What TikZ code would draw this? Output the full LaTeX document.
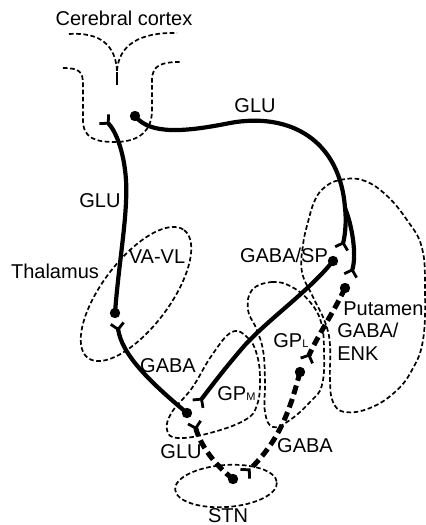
\documentclass[tikz,border=0pt]{standalone}
\usepackage{fontspec}
\setmainfont{Liberation Sans}
\usetikzlibrary{arrows.meta}

\begin{document}
\begin{tikzpicture}[x=0.5pt,y=-0.5pt,
    axon/.style={line width=2.1pt},
    axondash/.style={line width=2.5pt,dash pattern=on 4.5pt off 2.5pt},
    region/.style={line width=0.85pt,dash pattern=on 2.3pt off 1.3pt},
    terminal/.style={-{Straight Barb[reversed,length=3pt,width=6.5pt,line width=1.4pt]}},
    lbl/.style={font=\fontsize{10}{12}\selectfont,inner sep=0pt,anchor=base},
    lbll/.style={lbl,anchor=base west}]

    \useasboundingbox (0,0) rectangle (426,525);

    % Outline of the cerebral cortex
    \draw[region] (69,34) .. controls (100,32) and (116,45) .. (117,72)
        .. controls (118,45) and (140,32) .. (177,33);
    \draw[line width=0.85pt] (117,72) -- (117,85);
    \draw[region] (63,68) .. controls (80,68) and (83,72) .. (83,85) -- (83,120)
        .. controls (83,138) and (95,142) .. (115,142)
        .. controls (140,142) and (152,130) .. (152,110) -- (152,80)
        .. controls (152,65) and (162,62) .. (180,62);

    % Outlines of thalamus, STN, GP and putamen
    \draw[region,shift={(136,294)},rotate=53] (0,0) ellipse [x radius=80,y radius=34];
    \draw[region,shift={(226,486)},rotate=4] (0,0) ellipse [x radius=51,y radius=21];
    \draw[region] plot[smooth cycle,tension=0.7] coordinates {(232,332) (248,338) (257,355)
        (260,380) (257,405) (245,420) (210,433) (178,438) (167,430) (172,412) (192,388) (212,355)};
    \draw[region] plot[smooth cycle,tension=0.7] coordinates {(252,290) (272,282) (292,287)
        (310,302) (321,322) (324,350) (322,385) (310,402) (290,420) (273,427) (265,412)
        (265,380) (263,350) (256,328) (248,310)};
    \draw[region] plot[smooth cycle,tension=0.7] coordinates {(340,180) (362,180) (385,194)
        (407,220) (422,248) (425,290) (423,340) (412,370) (395,392) (370,408) (345,412)
        (333,402) (330,380) (330,345) (325,322) (313,297) (302,272) (303,245) (308,222)
        (315,200) (325,187)};

    % Cell bodies and synapses
    \coordinate (ctxsoma) at (135,116);
    \coordinate (ctxsyn) at (103,118);
    \coordinate (thalsoma) at (115,313);
    \coordinate (thalsyn) at (117,322);
    \coordinate (branch) at (345,208);
    \coordinate (spsyn) at (341,250);
    \coordinate (spsoma) at (333,261);
    \coordinate (enksyn) at (350,277);
    \coordinate (enksoma) at (345,288);
    \coordinate (gplsyn) at (306,362);
    \coordinate (gplsoma) at (300,372);
    \coordinate (gpmsoma) at (187,413);
    \coordinate (gpmsynsp) at (197,405);
    \coordinate (gpmsynstn) at (194,421);
    \coordinate (stnsyn) at (244,475);
    \coordinate (stnsoma) at (233,479);

    % Solid pathways
    \draw[axon,terminal] (thalsoma) .. controls (119,260) and (128,215) .. (126,180)
        .. controls (124,150) and (115,130) .. (ctxsyn);
    \draw[axon,terminal] (ctxsoma) .. controls (150,135) and (185,132) .. (230,123)
        .. controls (290,112) and (340,140) .. (branch)
        .. controls (347,225) and (344,240) .. (spsyn);
    \draw[axon,terminal] (branch) .. controls (352,225) and (357,255) .. (enksyn);
    \draw[axon,terminal] (gpmsoma) .. controls (150,382) and (122,355) .. (thalsyn);
    \draw[axon,terminal] (spsoma) .. controls (310,290) and (270,318) .. (245,345)
        .. controls (225,368) and (210,388) .. (gpmsynsp);

    % Dashed pathways
    \draw[axondash,terminal] (enksoma) .. controls (335,310) and (318,335) .. (gplsyn);
    \draw[axondash,terminal] (gplsoma) .. controls (290,410) and (280,440) .. (stnsyn);
    \draw[axondash,terminal] (stnsoma) .. controls (215,465) and (200,445) .. (gpmsynstn);

    % Dots for the cell bodies
    \foreach \c in {ctxsoma,thalsoma,spsoma,enksoma,gplsoma,gpmsoma,stnsoma}
        \fill (\c) circle (2.6pt);

    % Labels
    \node[lbl] (ctxlbl) at (124,25) {Cerebral cortex};
    \node[lbl] (glutop) at (255,112) {GLU};
    \node[lbl] (gluthal) at (100,207) {GLU};
    \node[lbl] (vavl) at (157,263) {VA-VL};
    \node[lbl] (thallbl) at (55,278) {Thalamus};
    \node[lbl] (gabathal) at (168,372) {GABA};
    \node[lbl] (gabasp) at (284,262) {GABA/SP};
    \node[lbll] (putlbl) at (343,315) {Putamen};
    \node[lbll] (gabaenk) at (337,337) {GABA/};
    \node[lbll] (enklbl) at (337,360) {ENK};
    \node[lbll] (gpllbl) at (273,347) {GP{\fontsize{5.5}{6}\selectfont L}};
    \node[lbll] (gpmlbl) at (217,400) {GP{\fontsize{5.5}{6}\selectfont M}};
    \node[lbl] (glustn) at (181,458) {GLU};
    \node[lbl] (gabagpl) at (305,452) {GABA};
    \node[lbl] (stnlbl) at (228,522) {STN};

\end{tikzpicture}
\end{document}
